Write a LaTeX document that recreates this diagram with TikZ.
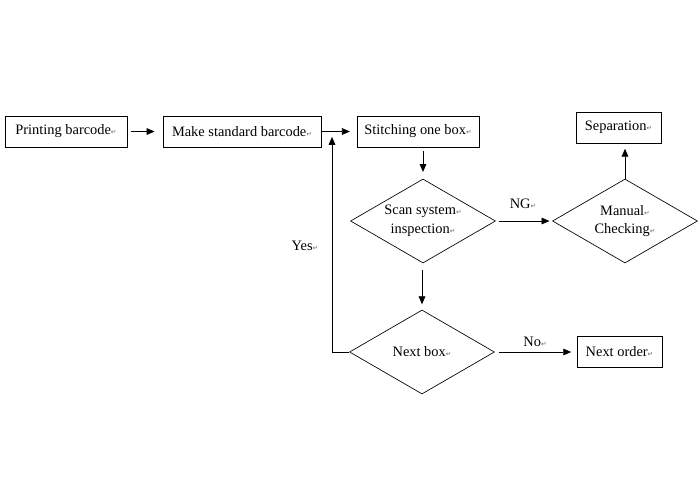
\documentclass[tikz,border=0pt]{standalone}
\usepackage{fontspec}
\setmainfont{Liberation Serif}
\newfontfamily\marksymfont{DejaVu Sans}
\usetikzlibrary{shapes.geometric,arrows.meta}
\newcommand{\parmark}{{\marksymfont\fontsize{5}{5}\selectfont\color{black!60}↵}}
\begin{document}
\begin{tikzpicture}[x=0.75pt,y=-0.75pt,
  font=\fontsize{10.8}{14}\selectfont,
  boxnode/.style={draw, line width=0.6pt, minimum height=23.25pt, inner sep=0pt, anchor=center},
  dia/.style={draw, line width=0.5pt, diamond, aspect=1.73, minimum width=108.75pt, minimum height=63pt, inner sep=0pt, align=center},
  arr/.style={line width=0.6pt, -{Triangle[length=6pt,width=5pt]}},
  lbl/.style={inner sep=0pt}]
\useasboundingbox (0,0) rectangle (700,500);
\node[boxnode, minimum width=91.5pt] (pb) at (66,131.5) {Printing barcode\parmark};
\node[boxnode, minimum width=118.5pt] (msb) at (242,131.5) {Make standard barcode\parmark};
\node[boxnode, minimum width=91.5pt] (sob) at (418,131.5) {Stitching one box\parmark};
\node[dia] (scan) at (423,221) {Scan system\parmark\\inspection\parmark};
\node[dia] (man) at (625,221) {Manual\parmark\\Checking\parmark};
\node[boxnode, minimum width=63.75pt] (sep) at (618.5,127.5) {Separation\parmark};
\node[dia] (nb) at (422,352) {Next box\parmark};
\node[boxnode, minimum width=63.75pt] (nxo) at (619.5,352) {Next order\parmark};
\coordinate (join) at (332,131.5);
\draw[arr, shorten <=3pt, shorten >=6pt] (pb) -- (msb);
\draw[arr, shorten >=5pt] (msb) -- (sob);
\draw[arr, shorten <=3pt, shorten >=5pt] (scan.north |- sob.south) -- (scan.north);
\draw[arr, shorten <=2pt, shorten >=2pt] (scan) -- (man);
\draw[arr, shorten >=4pt] (man.north) -- (man.north |- sep.south);
\draw[arr, shorten <=5pt, shorten >=4pt] (nb.north |- scan.south) -- (nb.north);
\draw[arr, shorten <=3pt, shorten >=4pt] (nb) -- (nxo);
\draw[arr, shorten >=4pt] (nb.west) -| (join);
\node[lbl] (ng) at (523,204) {NG\parmark};
\node[lbl] (nolbl) at (535,342) {No\parmark};
\node[lbl] (yes) at (305,246) {Yes\parmark};
\end{tikzpicture}
\end{document}
